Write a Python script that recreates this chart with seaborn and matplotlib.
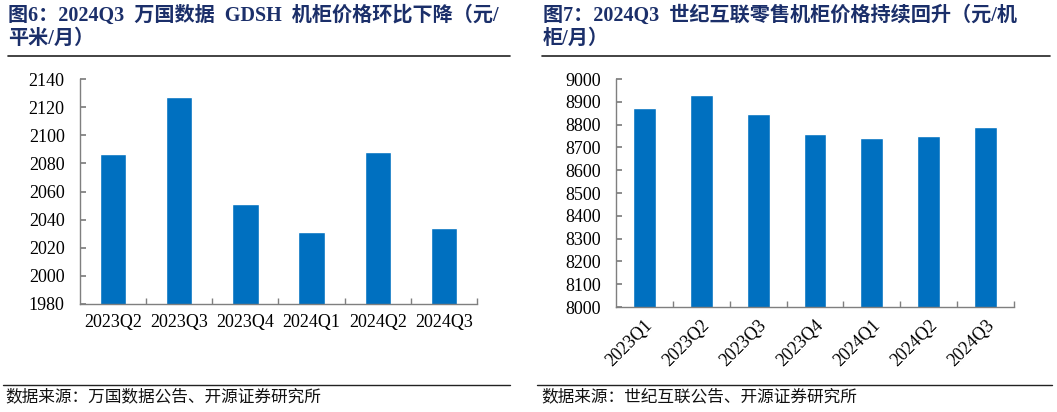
import matplotlib
matplotlib.use("Agg")
import matplotlib.pyplot as plt
import seaborn as sns
import pandas as pd
from matplotlib.lines import Line2D
from matplotlib.ticker import FixedLocator

# Figure 6 data: GDSH cabinet price (yuan / sqm / month)
gdsh_quarters = ["2023Q2", "2023Q3", "2023Q4", "2024Q1", "2024Q2", "2024Q3"]
gdsh_price = [2087, 2127, 2051, 2031, 2088, 2034]

# Figure 7 data: VNET retail cabinet price (yuan / cabinet / month)
vnet_quarters = ["2023Q1", "2023Q2", "2023Q3", "2023Q4", "2024Q1", "2024Q2", "2024Q3"]
vnet_price = [8874, 8931, 8845, 8757, 8741, 8751, 8788]

left_title = "图6：2024Q3  万国数据  GDSH  机柜价格环比下降（元/\n平米/月）"
right_title = "图7：2024Q3  世纪互联零售机柜价格持续回升（元/机\n柜/月）"
left_source = "数据来源：万国数据公告、开源证券研究所"
right_source = "数据来源：世纪互联公告、开源证券研究所"

sns.set_theme(style="white")
plt.rcParams["font.family"] = ["Liberation Serif", "Noto Sans CJK SC"]

BAR = "#0070C0"
TITLE = "#1B2F6A"
AXIS = "#7F7F7F"

fig = plt.figure(figsize=(10.57, 4.12), dpi=100)
W, H = 1057, 412


def style_axis(ax, n, ylim, step):
    ax.set_ylim(*ylim)
    ax.set_xlim(-0.5, n - 0.5)
    ax.set_yticks(range(ylim[0], ylim[1] + 1, step))
    ax.set_xlabel("")
    ax.set_ylabel("")
    for s in ["top", "right"]:
        ax.spines[s].set_visible(False)
    for s in ["left", "bottom"]:
        ax.spines[s].set_color(AXIS)
        ax.spines[s].set_linewidth(1.0)
    ax.tick_params(axis="y", direction="in", length=4, color=AXIS,
                   labelsize=13, labelcolor="black", pad=11, left=True)
    ax.tick_params(axis="x", which="major", length=0, labelsize=13,
                   labelcolor="black", pad=7)
    ax.xaxis.set_minor_locator(FixedLocator([i + 0.5 for i in range(n)]))
    ax.tick_params(axis="x", which="minor", direction="in", length=4,
                   color=AXIS, bottom=True)


# Left chart
ax1 = fig.add_axes([80 / W, 1 - 304 / H, 397 / W, 225 / H])
df1 = pd.DataFrame({"quarter": gdsh_quarters, "price": gdsh_price})
sns.barplot(data=df1, x="quarter", y="price", color=BAR, width=0.4,
            saturation=1, ax=ax1)
style_axis(ax1, len(gdsh_quarters), (1980, 2140), 20)

# Right chart
ax2 = fig.add_axes([616 / W, 1 - 307 / H, 398 / W, 228 / H])
df2 = pd.DataFrame({"quarter": vnet_quarters, "price": vnet_price})
sns.barplot(data=df2, x="quarter", y="price", color=BAR, width=0.4,
            saturation=1, ax=ax2)
style_axis(ax2, len(vnet_quarters), (8000, 9000), 100)
for lbl in ax2.get_xticklabels():
    lbl.set_rotation(45)
    lbl.set_ha("right")
    lbl.set_rotation_mode("anchor")

# Titles
fig.text(8 / W, 1 - 5 / H, left_title, ha="left", va="top", fontsize=14.5,
         fontweight="bold", color=TITLE, linespacing=1.2)
fig.text(543 / W, 1 - 5 / H, right_title, ha="left", va="top", fontsize=14.5,
         fontweight="bold", color=TITLE, linespacing=1.2)

# Separator lines
for x0, x1 in [(8, 510), (542, 1050)]:
    fig.add_artist(Line2D([x0 / W, x1 / W], [1 - 56 / H, 1 - 56 / H],
                          color="#222222", linewidth=1.2))
for x0, x1 in [(3, 510), (537, 1052)]:
    fig.add_artist(Line2D([x0 / W, x1 / W], [1 - 385 / H, 1 - 385 / H],
                          color="#222222", linewidth=1.0))

# Sources
fig.text(5 / W, 1 - 397 / H, left_source, ha="left", va="center",
         fontsize=12, color="#111111", family=["Noto Sans CJK SC"])
fig.text(541 / W, 1 - 397 / H, right_source, ha="left", va="center",
         fontsize=12, color="#111111", family=["Noto Sans CJK SC"])

fig.savefig("out.png", dpi=100, facecolor="white")
